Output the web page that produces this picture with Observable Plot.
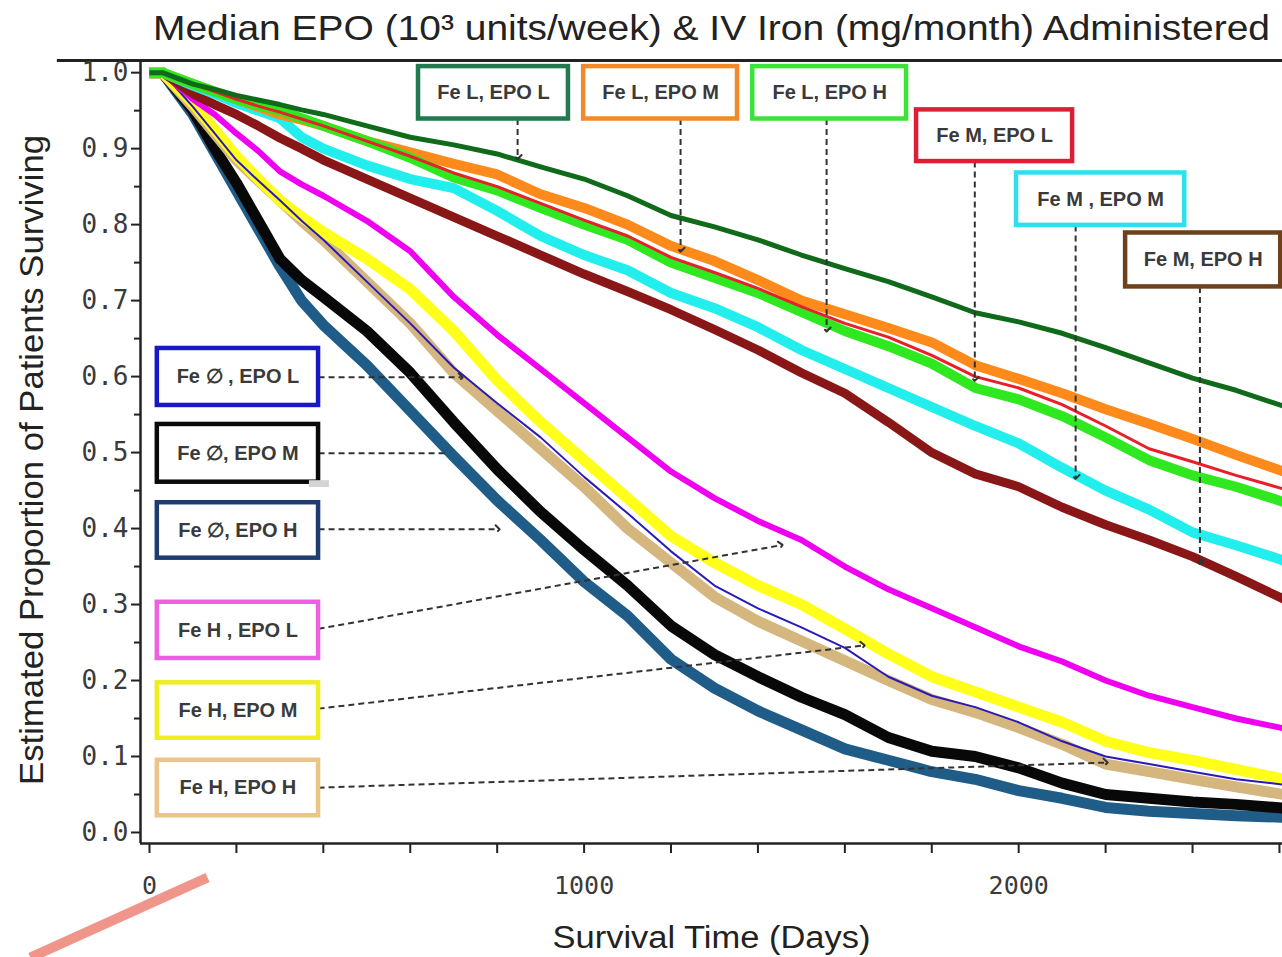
<!DOCTYPE html>
<html>
<head>
<meta charset="utf-8">
<script src="https://cdn.jsdelivr.net/npm/d3@7"></script>
<script src="https://cdn.jsdelivr.net/npm/@observablehq/plot@0.6"></script>
<style>
  body { margin: 0; background: #fff; }
  #chart svg { display: block; }
</style>
</head>
<body>
<div id="chart"></div>
<script>
// Kaplan–Meier survival estimates by IV iron (Fe) and EPO dose tier.
const days = [0, 30, 100, 150, 200, 250, 300, 350, 400, 500, 600, 700, 800, 900, 1000,
  1100, 1200, 1300, 1400, 1500, 1600, 1700, 1800, 1900, 2000, 2100, 2200, 2300, 2400, 2500, 2610];

const feL_epoL = [1, 1, 0.985, 0.978, 0.97, 0.964, 0.958, 0.951, 0.945, 0.93, 0.915, 0.905, 0.893, 0.876, 0.86,
  0.838, 0.812, 0.797, 0.78, 0.76, 0.742, 0.725, 0.705, 0.684, 0.672, 0.657, 0.638, 0.618, 0.598, 0.582, 0.561];
const feL_epoM = [1, 1, 0.985, 0.975, 0.965, 0.955, 0.945, 0.938, 0.93, 0.91, 0.895, 0.88, 0.866, 0.84, 0.822,
  0.8, 0.772, 0.752, 0.727, 0.7, 0.682, 0.664, 0.645, 0.615, 0.597, 0.578, 0.557, 0.538, 0.518, 0.497, 0.475];
const feL_epoH = [1, 1, 0.985, 0.975, 0.965, 0.957, 0.95, 0.94, 0.93, 0.91, 0.888, 0.862, 0.845, 0.822, 0.8,
  0.78, 0.75, 0.73, 0.71, 0.685, 0.66, 0.64, 0.617, 0.585, 0.57, 0.548, 0.52, 0.49, 0.47, 0.455, 0.435];
const feM_epoL = [1, 1, 0.985, 0.975, 0.965, 0.956, 0.948, 0.939, 0.93, 0.91, 0.89, 0.868, 0.85, 0.828, 0.806,
  0.785, 0.757, 0.737, 0.716, 0.692, 0.67, 0.652, 0.628, 0.6, 0.585, 0.563, 0.535, 0.505, 0.488, 0.47, 0.452];
const feM_epoM = [1, 1, 0.983, 0.972, 0.96, 0.95, 0.94, 0.915, 0.9, 0.878, 0.86, 0.848, 0.818, 0.785, 0.76,
  0.74, 0.71, 0.69, 0.665, 0.635, 0.61, 0.585, 0.56, 0.535, 0.512, 0.48, 0.45, 0.425, 0.395, 0.378, 0.358];
const feM_epoH = [1, 1, 0.972, 0.958, 0.945, 0.93, 0.914, 0.9, 0.885, 0.86, 0.835, 0.81, 0.785, 0.76, 0.735,
  0.712, 0.688, 0.662, 0.635, 0.605, 0.578, 0.54, 0.5, 0.472, 0.455, 0.428, 0.405, 0.385, 0.363, 0.337, 0.307];
const fe0_epoL = [1, 1, 0.955, 0.92, 0.885, 0.858, 0.832, 0.805, 0.78, 0.725, 0.67, 0.612, 0.565, 0.52, 0.468,
  0.42, 0.37, 0.325, 0.295, 0.27, 0.243, 0.205, 0.18, 0.165, 0.145, 0.12, 0.1, 0.09, 0.08, 0.07, 0.063];
const fe0_epoM = [1, 1, 0.95, 0.9, 0.855, 0.805, 0.755, 0.727, 0.705, 0.66, 0.605, 0.54, 0.478, 0.422, 0.372,
  0.325, 0.272, 0.234, 0.205, 0.178, 0.155, 0.125, 0.107, 0.1, 0.085, 0.065, 0.05, 0.045, 0.04, 0.037, 0.032];
const fe0_epoH = [1, 1, 0.945, 0.895, 0.845, 0.795, 0.745, 0.7, 0.668, 0.615, 0.555, 0.495, 0.437, 0.385, 0.33,
  0.285, 0.228, 0.19, 0.16, 0.135, 0.11, 0.095, 0.08, 0.07, 0.055, 0.045, 0.033, 0.028, 0.025, 0.022, 0.02];
const feH_epoL = [1, 1, 0.965, 0.945, 0.92, 0.897, 0.87, 0.853, 0.838, 0.805, 0.765, 0.705, 0.655, 0.61, 0.565,
  0.52, 0.475, 0.44, 0.41, 0.385, 0.35, 0.32, 0.295, 0.27, 0.245, 0.225, 0.2, 0.18, 0.165, 0.15, 0.137];
const feH_epoM = [1, 1, 0.96, 0.925, 0.89, 0.86, 0.832, 0.81, 0.79, 0.755, 0.715, 0.66, 0.595, 0.54, 0.49,
  0.44, 0.39, 0.355, 0.325, 0.3, 0.268, 0.235, 0.205, 0.185, 0.165, 0.145, 0.12, 0.105, 0.095, 0.083, 0.07];
const feH_epoH = [1, 1, 0.955, 0.92, 0.885, 0.858, 0.832, 0.805, 0.78, 0.725, 0.67, 0.605, 0.555, 0.505, 0.455,
  0.4, 0.355, 0.31, 0.278, 0.252, 0.226, 0.2, 0.175, 0.158, 0.138, 0.116, 0.09, 0.08, 0.07, 0.06, 0.05];

const groupLabels = ["Fe L, EPO L", "Fe L, EPO M", "Fe L, EPO H", "Fe M, EPO L", "Fe M , EPO M", "Fe M, EPO H",
  "Fe ∅ , EPO L", "Fe ∅, EPO M", "Fe ∅, EPO H", "Fe H , EPO L", "Fe H, EPO M", "Fe H, EPO H"];
const groupValues = [feL_epoL, feL_epoM, feL_epoH, feM_epoL, feM_epoM, feM_epoH,
  fe0_epoL, fe0_epoM, fe0_epoH, feH_epoL, feH_epoM, feH_epoH];

const yTicks = [0, 0.1, 0.2, 0.3, 0.4, 0.5, 0.6, 0.7, 0.8, 0.9, 1.0];
const yMinorTicks = [0.05, 0.15, 0.25, 0.35, 0.45, 0.55, 0.65, 0.75, 0.85, 0.95];
const xTicks = [0, 200, 400, 600, 800, 1000, 1200, 1400, 1600, 1800, 2000, 2200, 2400, 2600];
const xTickLabels = [0, 1000, 2000];

const titleText = "Median EPO (10³ units/week) & IV Iron (mg/month) Administered";
const xLabelText = "Survival Time (Days)";
const yLabelText = "Estimated Proportion of Patients Surviving";

// Curve styling per group: line colour, line weight, and label-box border colour.
const curveStyle = {
  "Fe L, EPO L": {stroke: "#0f6a1a", width: 5, box: "#217a4e"},
  "Fe L, EPO M": {stroke: "#ff8a1c", width: 10, box: "#f08a2c"},
  "Fe L, EPO H": {stroke: "#2fe81f", width: 10, box: "#3ee03a"},
  "Fe M, EPO L": {stroke: "#e8202a", width: 3, box: "#dc1f35"},
  "Fe M , EPO M": {stroke: "#22eeee", width: 10, box: "#2fdfee"},
  "Fe M, EPO H": {stroke: "#8a1717", width: 9, box: "#6e401b"},
  "Fe ∅ , EPO L": {stroke: "#2a1ab8", width: 2, box: "#1818c4"},
  "Fe ∅, EPO M": {stroke: "#080808", width: 11, box: "#0a0a0a"},
  "Fe ∅, EPO H": {stroke: "#1f5c87", width: 11, box: "#1e3b72"},
  "Fe H , EPO L": {stroke: "#f000f0", width: 6, box: "#ee60e0"},
  "Fe H, EPO M": {stroke: "#ffff1a", width: 11, box: "#eeee22"},
  "Fe H, EPO H": {stroke: "#d4b67e", width: 11, box: "#ebc487"}
};

// Stacking order of the curves (first drawn at the bottom).
const drawOrder = ["Fe ∅, EPO H", "Fe ∅, EPO M", "Fe H, EPO H", "Fe H, EPO M", "Fe ∅ , EPO L", "Fe H , EPO L",
  "Fe M, EPO H", "Fe M , EPO M", "Fe L, EPO M", "Fe L, EPO H", "Fe M, EPO L", "Fe L, EPO L"];

const rows = groupLabels.flatMap((g, i) => days.map((d, j) => ({group: g, day: d, surv: groupValues[i][j]})));

// Label boxes (in days / survival units) with the dashed leader pointing at each curve.
const callouts = [
  {group: "Fe L, EPO L", x1: 619, x2: 964, y1: 1.008, y2: 0.939, ax1: 847, ay1: 0.939, ax2: 847, ay2: 0.889, head: true},
  {group: "Fe L, EPO M", x1: 999, x2: 1353, y1: 1.008, y2: 0.939, ax1: 1222, ay1: 0.939, ax2: 1222, ay2: 0.767, head: true},
  {group: "Fe L, EPO H", x1: 1388, x2: 1742, y1: 1.008, y2: 0.939, ax1: 1558, ay1: 0.939, ax2: 1558, ay2: 0.662, head: true},
  {group: "Fe M, EPO L", x1: 1765, x2: 2124, y1: 0.951, y2: 0.883, ax1: 1899, ay1: 0.883, ax2: 1899, ay2: 0.597, head: true},
  {group: "Fe M , EPO M", x1: 1995, x2: 2382, y1: 0.868, y2: 0.799, ax1: 2131, ay1: 0.799, ax2: 2131, ay2: 0.468, head: true},
  {group: "Fe M, EPO H", x1: 2246, x2: 2603, y1: 0.789, y2: 0.718, ax1: 2417, ay1: 0.718, ax2: 2417, ay2: 0.356, head: true},
  {group: "Fe ∅ , EPO L", x1: 18, x2: 389, y1: 0.637, y2: 0.562, ax1: 389, ay1: 0.599, ax2: 716, ay2: 0.599, head: true},
  {group: "Fe ∅, EPO M", x1: 18, x2: 389, y1: 0.537, y2: 0.461, ax1: 389, ay1: 0.499, ax2: 686, ay2: 0.499, head: false},
  {group: "Fe ∅, EPO H", x1: 18, x2: 389, y1: 0.434, y2: 0.361, ax1: 389, ay1: 0.399, ax2: 801, ay2: 0.399, head: true},
  {group: "Fe H , EPO L", x1: 18, x2: 389, y1: 0.303, y2: 0.229, ax1: 389, ay1: 0.268, ax2: 1452, ay2: 0.378, head: true},
  {group: "Fe H, EPO M", x1: 18, x2: 389, y1: 0.197, y2: 0.124, ax1: 389, ay1: 0.163, ax2: 1641, ay2: 0.246, head: true},
  {group: "Fe H, EPO H", x1: 18, x2: 389, y1: 0.095, y2: 0.022, ax1: 389, ay1: 0.059, ax2: 2200, ay2: 0.092, head: true}
];

const xDomain = [-20.7, 2607];
const yDomain = [-0.0145, 1.016];

// Decorations around the frame: the extended top rule, a grey swatch and a salmon pen stroke.
const topRule = [{x1: -212, x2: 2607, y: yDomain[1]}];
const swatch = [{x1: 368, x2: 414, y1: 0.463, y2: 0.454}];
const penStroke = [{x1: -274, y1: -0.1645, x2: 133.5, y2: -0.0592}];

const leader = {stroke: "#333", strokeWidth: 2, strokeDasharray: "6,4"};
const sans = "Liberation Sans, Arial, sans-serif";

const marks = [
  // survival curves
  ...drawOrder.map(g => Plot.line(rows.filter(r => r.group === g), {
    x: "day", y: "surv", stroke: curveStyle[g].stroke, strokeWidth: curveStyle[g].width,
    strokeLinejoin: "round", strokeLinecap: "butt", clip: true
  })),

  // frame lines
  Plot.ruleX([xDomain[0]], {stroke: "#222", strokeWidth: 2.5}),
  Plot.ruleY([yDomain[0]], {stroke: "#222", strokeWidth: 2.5}),
  Plot.ruleY(topRule, {x1: "x1", x2: "x2", y: "y", stroke: "#222", strokeWidth: 3}),

  // axes
  Plot.axisY({ticks: yTicks, tickFormat: d3.format(".1f"), tickSize: 9, tickPadding: 3,
    fontSize: 26, fontFamily: "DejaVu Sans Mono", fill: "#3a3a3a", stroke: "#222", strokeWidth: 2, label: null}),
  Plot.axisY({ticks: yMinorTicks, tickFormat: () => "", tickSize: 6, stroke: "#222", strokeWidth: 2, label: null}),
  Plot.axisX({ticks: xTicks, tickFormat: d => xTickLabels.includes(d) ? String(d) : "", tickSize: 10, tickPadding: 23,
    fontSize: 25, fontFamily: "DejaVu Sans Mono", fill: "#3a3a3a", stroke: "#222", strokeWidth: 2, label: null}),

  // leaders and label boxes
  Plot.link(callouts.filter(c => c.head), {x1: "ax1", y1: "ay1", x2: "ax2", y2: "ay2", ...leader, markerEnd: "arrow"}),
  Plot.link(callouts.filter(c => !c.head), {x1: "ax1", y1: "ay1", x2: "ax2", y2: "ay2", ...leader}),
  Plot.rect(callouts, {x1: "x1", x2: "x2", y1: "y1", y2: "y2", fill: "white",
    stroke: c => curveStyle[c.group].box, strokeWidth: 4.5}),
  Plot.text(callouts, {x: c => (c.x1 + c.x2) / 2, y: c => (c.y1 + c.y2) / 2, text: "group",
    fontSize: 20, fontFamily: sans, fill: "#3a3a3a", fontWeight: "bold"}),

  Plot.rect(swatch, {x1: "x1", x2: "x2", y1: "y1", y2: "y2", fill: "#d4d4d4"}),
  Plot.link(penStroke, {x1: "x1", y1: "y1", x2: "x2", y2: "y2", stroke: "#f0958a", strokeWidth: 10}),

  // titles
  Plot.text([titleText], {frameAnchor: "top", dy: -32, lineAnchor: "middle", fontSize: 35, fill: "#222", fontFamily: sans}),
  Plot.text([xLabelText], {frameAnchor: "bottom", dy: 95, lineAnchor: "middle", fontSize: 31, fill: "#222", fontFamily: sans}),
  Plot.text([yLabelText], {frameAnchor: "left", dx: -108, dy: 8, rotate: -90, fontSize: 33, fill: "#222",
    textAnchor: "middle", lineAnchor: "middle", fontFamily: sans})
];

const chart = Plot.plot({
  width: 1282,
  height: 957,
  marginTop: 60,
  marginBottom: 114,
  marginLeft: 140,
  marginRight: 0,
  x: {domain: xDomain},
  y: {domain: yDomain},
  style: {background: "white", color: "#222", fontFamily: sans, overflow: "visible"},
  marks
});

// Fit the long titles to their set lengths.
const fitWidths = new Map([[titleText, 1117], [xLabelText, 318], [yLabelText, 650]]);
d3.select(chart).selectAll("text").each(function () {
  const w = fitWidths.get(this.textContent);
  if (w) {
    this.setAttribute("textLength", w);
    this.setAttribute("lengthAdjust", "spacingAndGlyphs");
  }
});

document.getElementById("chart").append(chart);
</script>
</body>
</html>
